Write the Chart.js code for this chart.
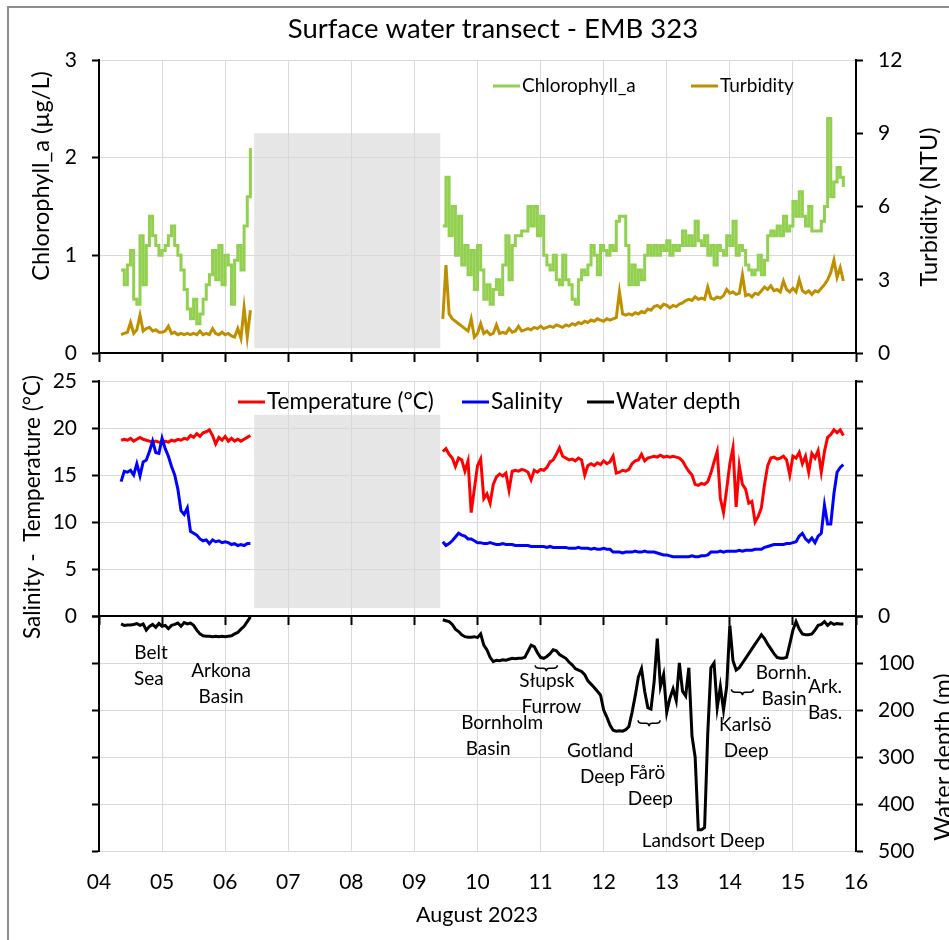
<!DOCTYPE html>
<html>
<head>
<meta charset="utf-8">
<script src="https://cdn.jsdelivr.net/npm/chart.js@4.4.1/dist/chart.umd.min.js"></script>
<style>
  html, body { margin: 0; padding: 0; background: #fff; }
  #wrap { position: relative; width: 949px; height: 940px; overflow: hidden; }
  #frame { position: absolute; left: 7px; top: 6px; width: 990px; height: 990px;
           border-left: 2px solid #8c8c8c; border-top: 2px solid #8c8c8c; }
  canvas { position: absolute; left: 0; }
</style>
</head>
<body>
<div id="wrap">
  <div id="frame"></div>
  <canvas id="c1" width="949" height="370" style="top:0;z-index:3"></canvas>
  <canvas id="c3" width="949" height="340" style="top:600px;z-index:1"></canvas>
  <canvas id="c2" width="949" height="290" style="top:360px;z-index:2"></canvas>
</div>
<script>
// ---- data ----
const tickLabels = ['04','05','06','07','08','09','10','11','12','13','14','15','16'];

// sample times in days of August 2023; 8.0 marks the gap with no data
const days = [
  4.35,4.40,4.45,4.50,4.55,4.60,4.65,4.70,4.75,4.80,4.85,4.90,4.95,5.00,5.05,5.10,5.15,5.20,5.25,5.30,
  5.35,5.40,5.45,5.50,5.55,5.60,5.65,5.70,5.75,5.80,5.85,5.90,5.95,6.00,6.05,6.10,6.15,6.20,6.25,6.30,
  6.35,6.40,
  8.00,
  9.45,9.50,9.55,9.60,9.65,9.70,9.75,9.80,9.85,9.90,9.95,
  10.00,10.05,10.10,10.15,10.20,10.25,10.30,10.35,10.40,10.45,10.50,10.55,10.60,10.65,10.70,10.75,10.80,10.85,10.90,10.95,
  11.00,11.05,11.10,11.15,11.20,11.25,11.30,11.35,11.40,11.45,11.50,11.55,11.60,11.65,11.70,11.75,11.80,11.85,11.90,11.95,
  12.00,12.05,12.10,12.15,12.20,12.25,12.30,12.35,12.40,12.45,12.50,12.55,12.60,12.65,12.70,12.75,12.80,12.85,12.90,12.95,
  13.00,13.05,13.10,13.15,13.20,13.25,13.30,13.35,13.40,13.45,13.50,13.55,13.60,13.65,13.70,13.75,13.80,13.85,13.90,13.95,
  14.00,14.05,14.10,14.15,14.20,14.25,14.30,14.35,14.40,14.45,14.50,14.55,14.60,14.65,14.70,14.75,14.80,14.85,14.90,14.95,
  15.00,15.05,15.10,15.15,15.20,15.25,15.30,15.35,15.40,15.45,15.50,15.55,15.60,15.65,15.70,15.75,15.80
];

const chl = [
  0.85,0.70,0.90,1.05,0.55,0.50,1.20,0.70,1.10,1.40, 1.20,1.10,1.00,1.05,1.10,1.20,1.30,1.10,1.00,0.85,
  0.65,0.45,0.35,0.55,0.30,0.40,0.55,0.70,0.80,1.05, 0.75,1.10,0.70,1.00,0.90,0.50,0.95,1.10,0.85,1.30,
  1.60,2.10,
  null,
  1.30,1.80,1.20,1.50,1.00,1.40,0.90,1.10,0.80,1.05, 0.65,1.10,0.85,0.55,0.70,0.50,0.65,0.75,0.60,0.90,
  1.20,0.75,1.10,1.20,1.20,1.25,1.25,1.50,1.30,1.50, 1.20,1.40,1.00,0.90,0.85,1.00,0.75,0.70,1.00,0.75,
  0.70,0.55,0.50,0.75,0.85,0.80,0.90,1.10,1.00,0.80, 1.10,1.05,1.00,1.10,1.05,1.35,1.40,1.40,1.10,0.70,
  0.90,0.70,0.85,0.75,1.00,1.10,1.00,1.10,1.00,1.10, 1.05,1.15,1.00,1.10,1.05,1.10,1.25,1.10,1.20,1.10,
  1.35,1.15,1.10,1.20,1.00,1.10,0.90,1.10,1.05,1.00, 1.20,1.10,1.35,1.00,1.10,1.05,0.90,0.85,0.80,0.85,
  1.00,0.80,0.95,1.20,1.25,1.20,1.30,1.20,1.40,1.25, 1.30,1.55,1.40,1.65,1.40,1.30,1.50,1.25,1.25,1.25,
  1.35,1.50,2.40,1.60,1.75,1.90,1.80,1.70
];

const turb = [
  0.75,0.80,0.85,1.25,0.80,0.95,1.55,0.90,1.00,1.05, 0.90,0.95,0.85,0.85,0.90,1.10,0.80,0.85,0.75,0.80,
  0.75,0.80,0.75,0.80,0.75,0.90,0.75,0.80,0.75,1.00, 0.80,0.75,0.85,0.75,0.80,0.70,0.65,1.00,0.60,1.85,
  0.65,1.75,
  null,
  1.40,3.60,1.60,1.40,1.30,1.20,1.10,1.00,0.90,1.40, 0.65,0.80,1.20,0.80,0.90,0.75,0.80,1.15,0.80,0.85,
  0.80,1.00,0.85,0.90,1.10,0.90,0.95,1.00,0.95,1.05, 1.00,1.10,1.00,1.05,1.10,1.05,1.15,1.10,1.05,1.15,
  1.10,1.20,1.15,1.25,1.20,1.30,1.25,1.35,1.30,1.40, 1.35,1.30,1.40,1.35,1.40,1.45,2.50,1.60,1.55,1.60,
  1.55,1.65,1.60,1.70,1.65,1.80,1.75,1.90,1.95,1.85, 2.00,1.95,1.85,1.95,1.90,2.00,2.05,2.15,2.20,2.15,
  2.30,2.20,2.25,2.20,2.70,2.25,2.20,2.30,2.25,2.35, 2.60,2.45,2.50,2.40,2.45,3.20,2.35,2.40,2.30,2.45,
  2.40,2.55,2.70,2.60,2.75,2.55,2.60,2.50,2.95,2.60, 2.50,2.65,2.50,3.00,2.55,2.45,2.55,2.40,2.55,2.50,
  2.65,2.80,3.00,3.30,3.80,3.10,3.50,2.95
];

const temp = [
  18.7,18.8,18.7,18.9,18.6,18.8,19.0,18.8,18.7,18.6, 18.5,18.6,18.5,18.4,18.6,18.5,18.7,18.6,18.8,18.7,
  18.9,18.8,19.2,19.0,19.4,19.1,19.5,19.6,19.8,19.2, 18.3,19.0,18.7,19.1,18.6,18.9,18.6,18.8,18.6,18.8,
  19.0,19.2,
  null,
  17.5,17.8,17.2,16.8,15.9,16.8,16.6,15.4,16.5,11.0, 13.5,16.0,16.7,12.5,13.0,12.0,14.0,14.8,15.1,14.9,
  15.2,13.4,15.4,15.5,15.4,15.6,15.5,15.3,14.5,15.5, 15.3,15.6,15.5,15.8,16.4,16.6,17.2,17.9,17.0,16.8,
  16.6,16.7,16.5,16.8,16.6,15.0,16.0,16.2,16.0,16.3, 16.1,16.5,16.2,16.4,17.0,15.2,15.3,15.5,15.4,15.6,
  16.2,16.5,16.6,17.2,16.5,16.8,16.9,17.0,16.9,17.1, 16.9,17.0,16.9,17.0,16.9,16.8,16.5,15.9,15.4,15.0,
  14.0,13.9,14.1,14.0,14.3,15.2,16.4,17.5,12.5,11.0, 13.5,16.2,17.9,11.6,16.0,14.0,13.5,12.0,12.2,10.0,
  10.6,11.5,14.0,16.0,16.8,16.9,16.7,16.8,17.0,16.6, 15.0,17.0,16.8,17.4,16.2,17.0,15.3,17.3,16.8,17.6,
  15.3,17.5,19.0,19.3,19.8,19.5,19.8,19.2
];

const sal = [
  14.3,15.4,15.3,15.5,15.0,16.2,14.9,16.4,16.6,17.5, 18.6,17.4,17.3,18.9,17.8,17.0,15.9,15.0,13.5,11.2,
  10.8,11.5,9.0,8.8,8.6,8.2,8.0,8.1,7.7,8.1, 7.9,8.0,7.8,7.9,7.8,7.6,7.7,7.5,7.6,7.5,
  7.7,7.7,
  null,
  7.9,7.5,7.7,8.0,8.4,8.8,8.6,8.5,8.2,8.2, 8.0,7.8,7.8,7.7,7.7,7.8,7.7,7.6,7.6,7.7,
  7.6,7.6,7.6,7.5,7.5,7.5,7.5,7.5,7.4,7.4, 7.4,7.4,7.4,7.3,7.4,7.3,7.3,7.3,7.3,7.3,
  7.2,7.2,7.2,7.3,7.2,7.2,7.2,7.1,7.2,7.1, 7.1,7.2,7.1,7.1,6.8,6.8,6.8,6.7,6.8,6.8,
  6.8,6.9,6.8,6.8,6.9,6.8,6.8,6.8,6.7,6.6, 6.5,6.5,6.4,6.3,6.3,6.3,6.3,6.3,6.3,6.4,
  6.3,6.3,6.4,6.4,6.5,6.8,6.8,6.8,6.9,6.8, 6.9,6.9,6.9,6.9,7.0,6.9,7.0,7.0,7.0,7.1,
  7.1,7.1,7.3,7.4,7.5,7.6,7.6,7.6,7.6,7.7, 7.7,7.8,7.9,8.5,8.8,8.2,7.9,8.3,7.8,8.5,
  8.8,11.8,9.8,9.8,13.0,15.3,15.8,16.1
];

const depth = [
  17,20,19,19,18,16,20,17,30,22, 18,24,16,22,20,27,20,18,15,22,
  14,17,15,20,30,38,42,43,43,44, 43,44,43,44,43,42,38,35,28,22,
  12,2,
  null,
  8,10,12,18,28,33,40,44,45,45, 44,46,38,62,72,88,97,94,95,93,
  94,92,90,91,90,90,88,75,62,65, 78,88,90,86,80,72,74,82,86,90,
  98,104,112,115,118,125,138,145,152,160, 168,200,215,232,243,245,244,245,242,235,
  205,170,130,112,160,195,198,140,48,150, 125,205,175,155,180,100,160,170,110,255,
  300,455,455,450,250,110,100,195,150,200, 150,20,95,115,110,100,90,80,70,60,
  50,40,48,60,70,80,88,90,90,88, 60,30,12,28,38,40,40,38,30,20,
  18,12,20,14,18,16,17,17
];

// basin names written under the depth profile (day, depth in m)
const basinNames = ['Belt','Sea','Arkona','Basin','Bornholm','Basin','Słupsk','Furrow','Gotland','Deep',
  'Fårö','Deep','Landsort Deep','Karlsö','Deep','Bornh.','Basin','Ark.','Bas.'];
const basinDay = [4.825,4.79,5.935,5.935,10.39,10.17,11.10,11.17,11.945,11.98,
  12.69,12.74,13.58,14.245,14.26,14.85,14.86,15.51,15.51];
const basinDepth = [79,134,117,172,228,283,138,194,287,343,334,389,479,232,287,121,177,151,206];
const braceDay = [11.09,12.72,14.20];
const braceDepth = [111,228,162];

// ---- styling ----
const FONT = 'Lato, "DejaVu Sans", sans-serif';
Chart.defaults.font.family = FONT;
Chart.defaults.color = '#000';
const GRID = '#d9d9d9';
const GREEN = '#92d050', GOLD = '#bf8f00', RED = '#ff0000', BLUE = '#0000ff', BLACK = '#000000';

const pts = arr => days.map((d, i) => ({ x: d, y: arr[i] }));

function line(label, arr, color, axis, order, stepped) {
  return { label, data: pts(arr), borderColor: color, backgroundColor: color, yAxisID: axis,
           borderWidth: 3, pointRadius: 0, tension: 0, order, stepped: !!stepped };
}

function xAxis(showLabels, height) {
  return {
    type: 'linear', min: 4, max: 16,
    afterFit: s => { s.height = height; s.paddingLeft = 0; s.paddingRight = 0; },
    ticks: { stepSize: 1, autoSkip: false, maxRotation: 0, display: showLabels,
             callback: v => tickLabels[v - 4], font: { size: 21 }, padding: 19 },
    grid: { color: GRID, tickColor: BLACK, tickLength: 9, tickWidth: 2, drawTicks: !showLabels },
    border: { display: !showLabels, color: BLACK, width: 2 }
  };
}

function yAxis(pos, min, max, step, labels, reverse) {
  return {
    position: pos, min, max, reverse: !!reverse,
    afterFit: s => { s.width = pos === 'left' ? 99 : 93; s.paddingTop = 0; s.paddingBottom = 0; },
    ticks: { stepSize: step, display: labels, font: { size: 21 }, padding: 15 },
    grid: { color: GRID, drawOnChartArea: pos === 'left', tickColor: BLACK, tickLength: 7, tickWidth: 2 },
    border: { color: BLACK, width: 2 }
  };
}

// draws the grey no-data box, legends, titles and basin names
function overlay(cfg) {
  return {
    id: 'overlay',
    beforeDraw(chart) {
      if (!cfg.box) return;
      const ctx = chart.ctx, x = chart.scales.x, y = chart.scales[cfg.box.axis];
      const l = x.getPixelForValue(cfg.box.x0), r = x.getPixelForValue(cfg.box.x1);
      const t = y.getPixelForValue(cfg.box.y1), b = y.getPixelForValue(cfg.box.y0);
      ctx.save();
      ctx.fillStyle = '#e6e6e6';
      ctx.fillRect(l, t, r - l, b - t);
      ctx.restore();
    },
    afterDraw(chart) {
      const ctx = chart.ctx;
      ctx.save();
      ctx.fillStyle = BLACK;
      ctx.textBaseline = 'middle';
      (cfg.legend || []).forEach(it => {
        ctx.strokeStyle = it.color;
        ctx.lineWidth = 3;
        ctx.beginPath();
        ctx.moveTo(it.x, cfg.legendY);
        ctx.lineTo(it.x + 27, cfg.legendY);
        ctx.stroke();
        ctx.font = cfg.legendFont;
        ctx.textAlign = 'left';
        ctx.fillText(it.text, it.x + 29, cfg.legendY);
      });
      (cfg.texts || []).forEach(t => {
        ctx.save();
        ctx.translate(t.x, t.y);
        ctx.rotate(t.rot || 0);
        ctx.font = t.font;
        ctx.textAlign = 'center';
        ctx.fillText(t.text, 0, 0);
        ctx.restore();
      });
      if (cfg.notes) {
        const x = chart.scales.x, y = chart.scales.y2;
        ctx.font = '19px ' + FONT;
        ctx.textAlign = 'center';
        basinNames.forEach((n, i) => {
          ctx.fillText(n, x.getPixelForValue(basinDay[i]), y.getPixelForValue(basinDepth[i]));
        });
        ctx.strokeStyle = BLACK;
        ctx.lineWidth = 1.5;
        braceDay.forEach((d, i) => {
          const cx = x.getPixelForValue(d), cy = y.getPixelForValue(braceDepth[i]) - 3;
          const w = 11, h = 6;
          ctx.beginPath();
          ctx.moveTo(cx - w, cy);
          ctx.quadraticCurveTo(cx - w, cy + h / 2, cx - w + 4, cy + h / 2);
          ctx.lineTo(cx - 3, cy + h / 2);
          ctx.quadraticCurveTo(cx, cy + h / 2, cx, cy + h);
          ctx.quadraticCurveTo(cx, cy + h / 2, cx + 3, cy + h / 2);
          ctx.lineTo(cx + w - 4, cy + h / 2);
          ctx.quadraticCurveTo(cx + w, cy + h / 2, cx + w, cy);
          ctx.stroke();
        });
      }
      ctx.restore();
    }
  };
}

const baseOpts = (padTop, scales) => ({
  responsive: false, animation: false, events: [],
  layout: { padding: { top: padTop, bottom: 0, left: 0, right: 0 } },
  plugins: { legend: { display: false }, tooltip: { enabled: false } },
  scales
});

// ---- top panel: chlorophyll and turbidity ----
new Chart(document.getElementById('c1'), {
  type: 'line',
  data: { datasets: [
    line('Chlorophyll_a', chl, GREEN, 'y', 2, true),
    line('Turbidity', turb, GOLD, 'y2', 1)
  ] },
  options: baseOpts(60, {
    x: xAxis(false, 17),
    y: yAxis('left', 0, 3, 1, true),
    y2: yAxis('right', 0, 12, 3, true)
  }),
  plugins: [overlay({
    box: { axis: 'y', x0: 6.46, x1: 9.41, y0: 0.05, y1: 2.25 },
    legendY: 86, legendFont: '19px ' + FONT,
    legend: [{ text: 'Chlorophyll_a', color: GREEN, x: 493 }, { text: 'Turbidity', color: GOLD, x: 691 }],
    texts: [
      { text: 'Surface water transect - EMB 323', x: 493, y: 29, font: '27.5px ' + FONT },
      { text: 'Chlorophyll_a (µg/L)', x: 41, y: 176, rot: -Math.PI / 2, font: '23.5px ' + FONT },
      { text: 'Turbidity (NTU)', x: 929, y: 207, rot: -Math.PI / 2, font: '23.5px ' + FONT }
    ]
  })]
});

// ---- middle panel: temperature and salinity ----
new Chart(document.getElementById('c2'), {
  type: 'line',
  data: { datasets: [
    line('Temperature (°C)', temp, RED, 'y', 2),
    line('Salinity', sal, BLUE, 'y', 1)
  ] },
  options: baseOpts(21, {
    x: xAxis(false, 34),
    y: yAxis('left', 0, 25, 5, true),
    y2: yAxis('right', 0, 25, 5, false)
  }),
  plugins: [overlay({
    box: { axis: 'y', x0: 6.46, x1: 9.41, y0: 0.85, y1: 21.4 },
    legendY: 42, legendFont: '22.5px ' + FONT,
    legend: [
      { text: 'Temperature (°C)', color: RED, x: 238 },
      { text: 'Salinity', color: BLUE, x: 462 },
      { text: 'Water depth', color: BLACK, x: 587 }
    ],
    texts: [
      { text: 'Salinity -  Temperature (°C)', x: 33, y: 147, rot: -Math.PI / 2, font: '22.5px ' + FONT }
    ]
  })]
});

// ---- bottom panel: water depth ----
new Chart(document.getElementById('c3'), {
  type: 'line',
  data: { datasets: [ line('Water depth', depth, BLACK, 'y2', 1) ] },
  options: baseOpts(16, {
    x: xAxis(true, 89),
    y: yAxis('left', 0, 500, 100, false, true),
    y2: yAxis('right', 0, 500, 100, true, true)
  }),
  plugins: [overlay({
    notes: true,
    texts: [
      { text: 'Water depth (m)', x: 943, y: 157, rot: -Math.PI / 2, font: '23.5px ' + FONT },
      { text: 'August 2023', x: 477, y: 315, font: '21.5px ' + FONT }
    ]
  })]
});
</script>
</body>
</html>
